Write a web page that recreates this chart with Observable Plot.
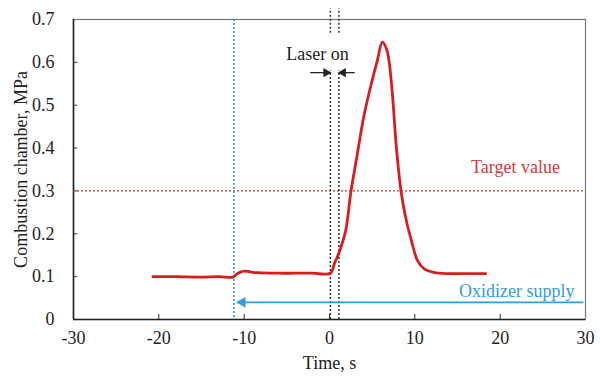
<!DOCTYPE html>
<html><head><meta charset="utf-8">
<script src="https://cdn.jsdelivr.net/npm/d3@7"></script>
<script src="https://cdn.jsdelivr.net/npm/@observablehq/plot@0.6"></script>
<style>
body{margin:0;background:#fff}
#chart svg, #chart svg text{font-family:"Liberation Serif","Times New Roman",serif !important;}
</style>
</head><body><div id="chart"></div>
<script>
const time = [-20.7, -18, -15, -13, -11.3, -11, -10.5, -10, -9.5, -9, -8, -6, -4, -2, 0.1, 0.6, 1.1, 1.9, 2.5, 3.2, 4.0, 4.8, 5.6, 6.2, 6.7, 7.0, 7.4, 7.8, 8.4, 9.0, 9.6, 10.3, 11.1, 12.2, 14, 16, 18.3];
const pressure = [0.100, 0.100, 0.099, 0.100, 0.099, 0.104, 0.110, 0.113, 0.112, 0.110, 0.109, 0.108, 0.108, 0.108, 0.108, 0.132, 0.155, 0.208, 0.297, 0.379, 0.472, 0.542, 0.604, 0.647, 0.630, 0.600, 0.519, 0.41, 0.297, 0.231, 0.184, 0.138, 0.118, 0.110, 0.107, 0.107, 0.107];
const xTicks = [-30, -20, -10, 0, 10, 20, 30];
const yTicks = [0, 0.1, 0.2, 0.3, 0.4, 0.5, 0.6, 0.7];
const targetValue = 0.3;
const oxidizerStart = -11.2;
const laserOn = [0.1, 1.1];
const series = time.map((t, i) => ({t, p: pressure[i]}));

const serif = "Liberation Serif";
const fs = 18;
const chart = Plot.plot({
  width: 600, height: 376,
  marginLeft: 73, marginRight: 15, marginTop: 19, marginBottom: 57,
  style: {fontFamily: serif, fontSize: fs + "px", background: "#fff", overflow: "visible"},
  x: {type: "linear", domain: [-30, 30]},
  y: {type: "linear", domain: [0, 0.7]},
  marks: [
    Plot.frame({stroke: "#777", strokeWidth: 1.2}),
    Plot.ruleX([-30], {stroke: "#222", strokeWidth: 1.6}),
    Plot.ruleY([0], {stroke: "#222", strokeWidth: 1.6}),
    Plot.axisX(xTicks, {tickSize: 0, tickPadding: 12, fontSize: fs, fill: "#222", label: null, tickFormat: d => String(d)}),
    Plot.ruleX(xTicks.slice(1, -1), {y1: 0, y2: 0.012, stroke: "#333", strokeWidth: 1}),
    Plot.axisY(yTicks, {tickSize: 0, tickPadding: 19, fontSize: fs, fill: "#222", label: null, tickFormat: d => String(d)}),
    Plot.ruleY(yTicks.slice(1, -1), {x1: -30, x2: -29.5, stroke: "#333", strokeWidth: 1}),
    Plot.text(["Time, s"], {frameAnchor: "bottom", dy: 49, fontSize: fs, fontFamily: serif, fill: "#222"}),
    Plot.text(["Combustion chamber, MPa"], {frameAnchor: "left", textAnchor: "middle", dx: -52, rotate: -90, fontSize: fs, fontFamily: serif, fill: "#222"}),
    Plot.ruleY([targetValue], {stroke: "#c8302a", strokeWidth: 1.3, strokeDasharray: "2,2"}),
    Plot.ruleX([oxidizerStart], {stroke: "#2f93d3", strokeWidth: 1.6, strokeDasharray: "2,2"}),
    Plot.ruleX(laserOn, {y1: 0, y2: 0.58, stroke: "#333", strokeWidth: 1.5, strokeDasharray: "2,2"}),
    Plot.ruleX(laserOn, {y1: 0.668, y2: 0.725, stroke: "#333", strokeWidth: 1.5, strokeDasharray: "2,2"}),
    Plot.line(series, {x: "t", y: "p", stroke: "#d51f1f", strokeWidth: 2.8, curve: "catmull-rom"}),
    Plot.ruleY([0.04], {x1: -10.8, x2: 29.8, stroke: "#2f9ee0", strokeWidth: 1.8}),
    Plot.dot([{x: -10.2, y: 0.04}], {x: "x", y: "y", symbol: "triangle", r: 4, rotate: -90, fill: "#2f9ee0", stroke: "none"}),
    Plot.ruleY([0.576], {x1: -2.2, x2: -0.3, stroke: "#222", strokeWidth: 1.3}),
    Plot.ruleY([0.576], {x1: 1.5, x2: 3.0, stroke: "#222", strokeWidth: 1.3}),
    Plot.dot([{x: -0.4, y: 0.576}], {x: "x", y: "y", symbol: "triangle", r: 3.5, rotate: 90, fill: "#222", stroke: "none"}),
    Plot.dot([{x: 1.6, y: 0.576}], {x: "x", y: "y", symbol: "triangle", r: 3.5, rotate: -90, fill: "#222", stroke: "none"}),
    Plot.text(["Laser on"], {x: -1.4, y: 0.62, fontSize: fs, fontFamily: serif, fill: "#222"}),
    Plot.text(["Target value"], {x: 21.8, y: 0.356, fontSize: fs, fontFamily: serif, fill: "#d23a3a"}),
    Plot.text(["Oxidizer supply"], {x: 28.7, y: 0.066, textAnchor: "end", fontSize: fs, fontFamily: serif, fill: "#3a9ad9"})
  ]
});
document.getElementById("chart").append(chart);
</script></body></html>
